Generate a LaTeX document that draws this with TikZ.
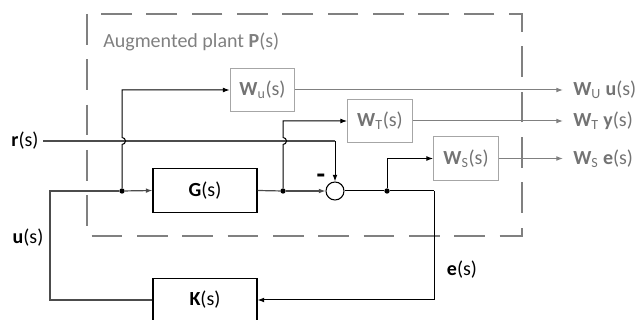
\documentclass[tikz,border=0pt]{standalone}
\usepackage{fontspec}
\setmainfont{Carlito}
\usetikzlibrary{arrows.meta,calc,positioning}

\begin{document}
\begin{tikzpicture}[x=0.75pt, y=-0.75pt, >={Latex[length=5pt,width=3.6pt]},
  every node/.style={font=\fontsize{15}{18}\selectfont},
  wire/.style={draw=black!70, line width=0.9pt},
  branch/.style={draw=black, line width=0.75pt},
  outwire/.style={draw=black!50, line width=0.75pt},
  mainblock/.style={draw=black, line width=0.8pt, minimum width=78pt, minimum height=32.5pt, inner sep=0pt},
  weightblock/.style={draw=black!35, line width=0.8pt, text=black!55, minimum width=48.5pt, minimum height=32.5pt, inner sep=0pt},
  outlabel/.style={text=black!55, anchor=west, inner sep=0pt},
  plantframe/.style={draw=black!50, line width=2pt, dash pattern=on 23pt off 11pt},
  sumpoint/.style={circle, draw=black, line width=0.8pt, minimum size=13.5pt, inner sep=0pt},
  dot/.style={circle, fill=black, inner sep=0pt, minimum size=4pt}]

  \useasboundingbox (0,0) rectangle (636,320);

  % === Augmented plant frame ===
  \draw[plantframe] (87,14) rectangle (522,236);
  \node[text=black!50, anchor=west, inner sep=0pt] (title) at (103,42) {Augmented plant \textbf{P}(s)};

  % === Blocks ===
  \node[mainblock] (G) at (205,190.5) {\textbf{G}(s)};
  \node[mainblock] (K) at (205,300) {\textbf{K}(s)};
  \node[weightblock] (Wu) at (262.5,90) {\textbf{W}\textsubscript{u}(s)};
  \node[weightblock] (WT) at (380,121) {\textbf{W}\textsubscript{T}(s)};
  \node[weightblock] (WS) at (466,158.5) {\textbf{W}\textsubscript{S}(s)};
  \node[sumpoint] (sum) at (335,191) {};
  \node[font=\fontsize{21}{24}\selectfont, inner sep=0pt] (minus) at (321,179) {\textbf{-}};

  % === Signals ===
  \node (r) at (25,141) {\textbf{r}(s)};
  \node (u) at (28,238) {\textbf{u}(s)};
  \node (e) at (462,270) {\textbf{e}(s)};
  \node[outlabel] (zu) at (573,90) {\textbf{W}\textsubscript{U} \textbf{u}(s)};
  \node[outlabel] (zT) at (573,121) {\textbf{W}\textsubscript{T} \textbf{y}(s)};
  \node[outlabel] (zS) at (573,158.5) {\textbf{W}\textsubscript{S} \textbf{e}(s)};

  % Branch points
  \node[dot] (j1) at (122,191) {};
  \node[dot] (j2) at (283,191) {};
  \node[dot] (j3) at (387,191) {};
  \coordinate (lc) at (50,191);
  \coordinate (rc) at (434,191);

  % === Loop ===
  \draw[wire] (K.west) -| (lc) -- (j1);
  \draw[wire,->] (j1) -- (G.west);
  \draw[wire] (G.east) -- (j2);
  \draw[wire,->] (j2) -- (sum.west);
  \draw[branch] (sum.east) -- (j3) -- (rc);
  \draw[branch,->] (rc) |- (K.east);

  % Reference input
  \draw[wire] (r.east) -- (r.east -| sum.north);
  \draw[branch,->] (r.east -| sum.north) -- (sum.north);

  % Branches to the weights (jumping over r)
  \draw[branch,->] (j1) -- ($(j1 |- r.east)+(0,3.5)$) arc[start angle=90, end angle=-90, radius=3.5] |- (Wu.west);
  \draw[branch,->] (j2) -- ($(j2 |- r.east)+(0,3.5)$) arc[start angle=90, end angle=-90, radius=3.5] |- (WT.west);
  \draw[branch,->] (j3) |- (WS.west);

  % Weighted outputs
  \draw[outwire,->] (Wu.east) -- ($(zu.west)+(-10,0)$);
  \draw[outwire,->] (WT.east) -- ($(zT.west)+(-10,0)$);
  \draw[outwire,->] (WS.east) -- ($(zS.west)+(-10,0)$);

\end{tikzpicture}
\end{document}
